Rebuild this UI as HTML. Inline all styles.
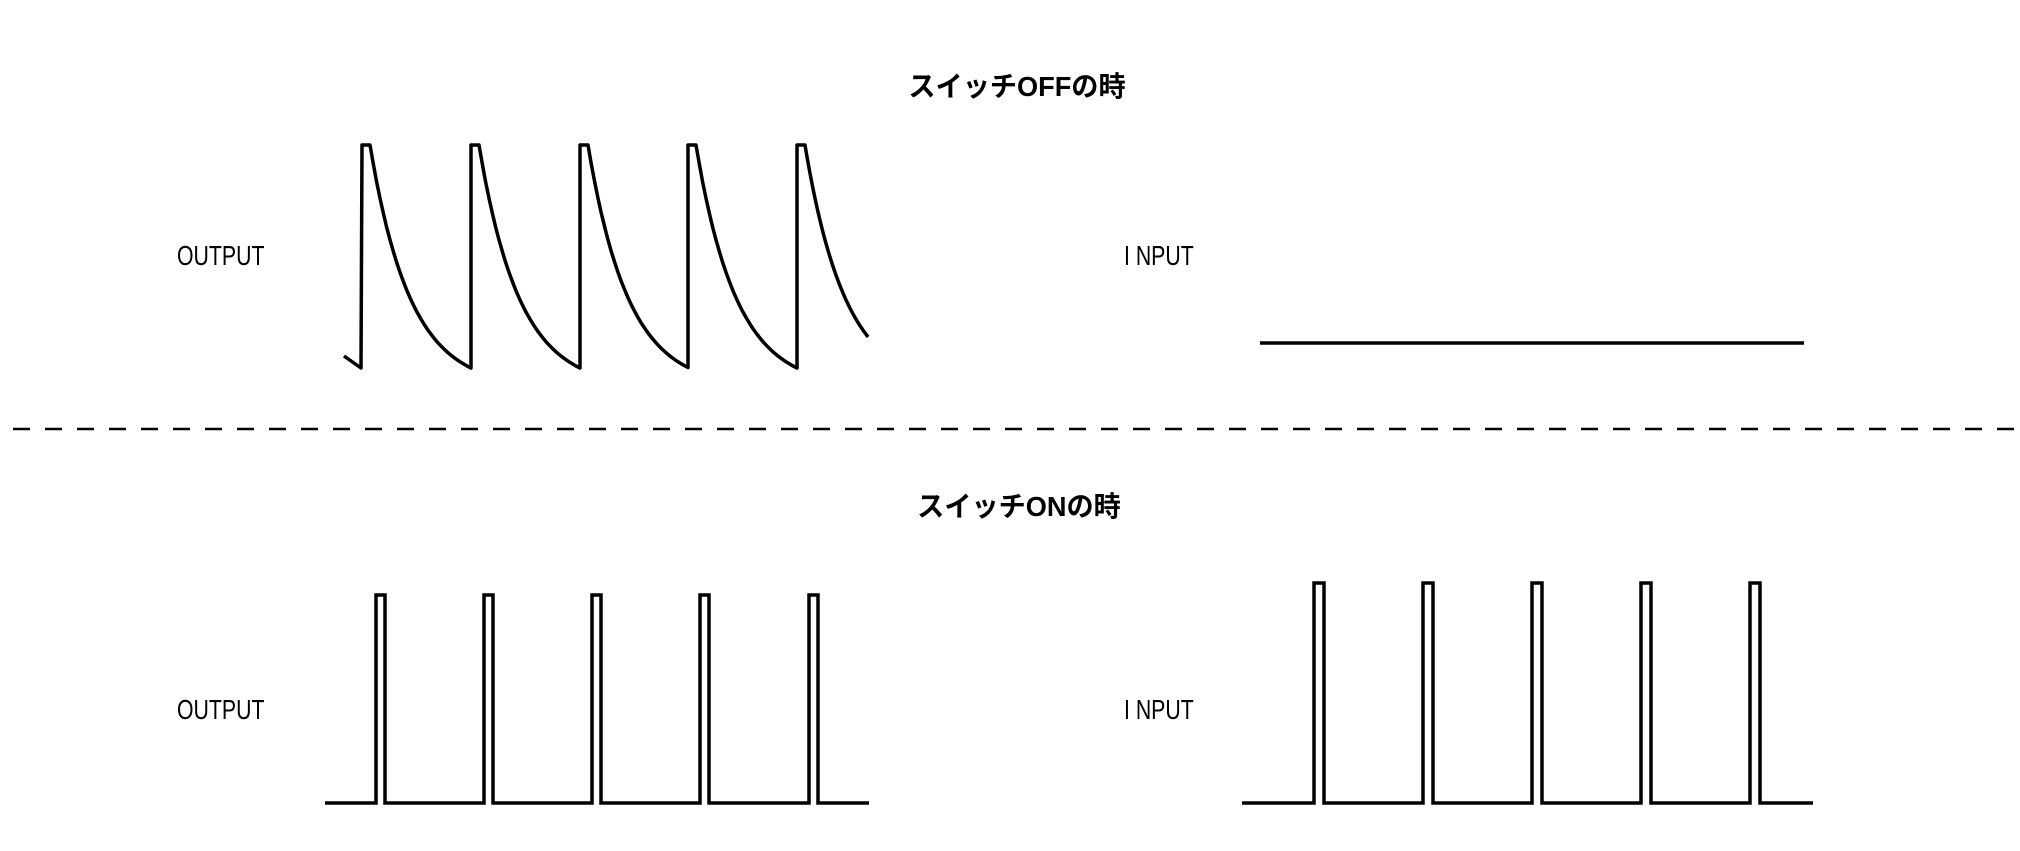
<!DOCTYPE html>
<html><head><meta charset="utf-8">
<style>
html,body{margin:0;padding:0;background:#fff;width:2020px;height:851px;overflow:hidden}
svg{display:block}
text{font-family:"Liberation Sans","Noto Sans CJK JP",sans-serif;fill:#000}
</style></head>
<body>
<svg id="s" width="2020" height="851" viewBox="0 0 2020 851" xmlns="http://www.w3.org/2000/svg">
<g font-size="28">
<text x="1017" y="96" text-anchor="middle" font-weight="bold" transform="translate(1017 0) scale(0.97 1) translate(-1017 0)">スイッチOFFの時</text>
<text x="1019" y="516" text-anchor="middle" font-weight="bold" transform="translate(1019 0) scale(0.97 1) translate(-1019 0)">スイッチONの時</text>
<text x="177" y="265" transform="translate(177 0) scale(0.76 1) translate(-177 0)">OUTPUT</text>
<text x="1124" y="265" transform="translate(1124 0) scale(0.76 1) translate(-1124 0)">I NPUT</text>
<text x="177" y="719" transform="translate(177 0) scale(0.76 1) translate(-177 0)">OUTPUT</text>
<text x="1124" y="719" transform="translate(1124 0) scale(0.76 1) translate(-1124 0)">I NPUT</text>
</g>
<line x1="13" y1="429" x2="2016" y2="429" stroke="#000" stroke-width="2.5" stroke-dasharray="17 15"/>
<line x1="1260" y1="343" x2="1804" y2="343" stroke="#000" stroke-width="3.5"/>
<path id="p1" fill="none" stroke="#000" stroke-width="3.5" stroke-linejoin="round"/>
<path id="p2" fill="none" stroke="#000" stroke-width="3.5"/>
<path id="p3" fill="none" stroke="#000" stroke-width="3.5"/>
</svg>
<script>
(function(){
var pk=[362,471,580,688,797], yt=145, yb=368;
var d="M344 356 L361 368 L362 "+yt;
var full=pk[1]-pk[0]-8, K=2.5;
for(var i=0;i<5;i++){
  var x0=pk[i], xs=x0+8;
  var len=(i<4?pk[i+1]-xs:868-xs);
  d+=" L"+x0+" "+yt+" L"+xs+" "+yt;
  var n=30;
  for(var k=1;k<=n;k++){
    var t=k/n*len/full; var x=xs+k/n*len;
    var f=(1-Math.exp(-K*t))/(1-Math.exp(-K));
    d+=" L"+x.toFixed(1)+" "+(yt+(yb-yt)*f).toFixed(1);
  }
  if(i<4) d+=" L"+pk[i+1]+" "+yt;
}
document.getElementById("p1").setAttribute("d",d);
function pulses(id,start,end,lefts,w,t,b){
  var s="M"+start+" "+b;
  lefts.forEach(function(l){s+=" L"+l+" "+b+" L"+l+" "+t+" L"+(l+w)+" "+t+" L"+(l+w)+" "+b;});
  s+=" L"+end+" "+b;
  document.getElementById(id).setAttribute("d",s);
}
pulses("p2",325,869,[376,484,592,700,809],9,595,803);
pulses("p3",1242,1813,[1314,1423,1532,1641,1750],10,583,803);
})();
</script>
</body></html>
